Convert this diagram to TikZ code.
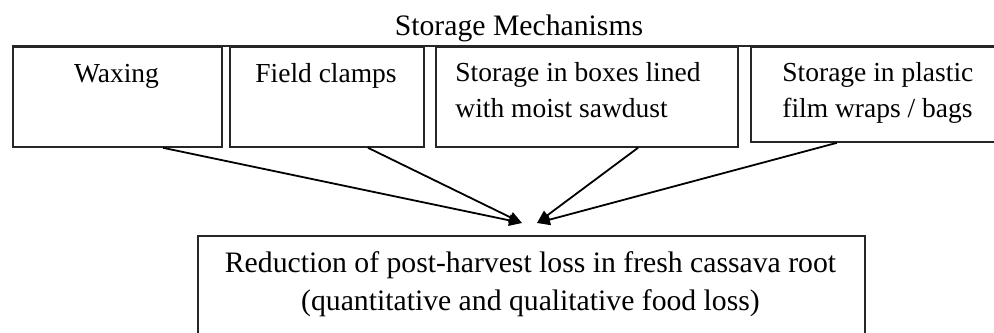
\documentclass[tikz,border=0pt]{standalone}
\usepackage{fontspec}
\setmainfont{Liberation Serif}
\usetikzlibrary{arrows.meta,calc}
\begin{document}
\begin{tikzpicture}[x=0.5pt,y=-0.5pt,
  boxshape/.style={draw=black!85,line width=0.9pt,rectangle,inner sep=0pt,anchor=north west},
  boxtext/.style={inner sep=0pt,font=\fontsize{13.75}{18}\selectfont,align=left},
  bigtext/.style={inner sep=0pt,font=\fontsize{14.85}{19}\selectfont,align=center},
  conn/.style={line width=0.9pt,-{Triangle[length=6.5pt,width=5.5pt]}}]
\useasboundingbox (0,0) rectangle (994,332);
% top boxes
\node[boxshape,minimum width=104.5pt,minimum height=50pt] (b1) at (12,46) {};
\node[boxshape,minimum width=97pt,minimum height=50pt] (b2) at (229,46) {};
\node[boxshape,minimum width=151pt,minimum height=50pt] (b3) at (435,46) {};
\node[boxshape,minimum width=130pt,minimum height=47.5pt] (b4) at (750,46) {};
\draw[draw=black!85,line width=0.9pt] (b1.north west) -- (b4.north east);
% bottom box
\node[boxshape,minimum width=333.5pt,minimum height=60pt] (r) at (197,235) {};
% texts
\node[bigtext,anchor=base] (title) at (519,35) {Storage Mechanisms};
\node[boxtext,anchor=base] (t1) at (116.5,82) {Waxing};
\node[boxtext,anchor=base] (t2) at (326,82) {Field clamps};
\node[boxtext,anchor=base west] (t3) at (455,117) {Storage in boxes lined\\with moist sawdust};
\node[boxtext,anchor=base west] (t4) at (782,117) {Storage in plastic\\film wraps / bags};
\node[bigtext,anchor=base] (rt) at (530.5,310) {Reduction of post-harvest loss in fresh cassava root\\(quantitative and qualitative food loss)};
% arrow targets
\coordinate (p1) at ($(r.north west)+(325,-12)$);
\coordinate (p2) at ($(r.north west)+(340,-12)$);
% connectors
\draw[conn] ($(b1.south west)+(151,0)$) -- (p1);
\draw[conn] ($(b2.south west)+(139,0)$) -- (p1);
\draw[conn] ($(b3.south west)+(203,0)$) -- (p2);
\draw[conn] ($(b4.south west)+(87,0)$) -- (p2);
\end{tikzpicture}
\end{document}
